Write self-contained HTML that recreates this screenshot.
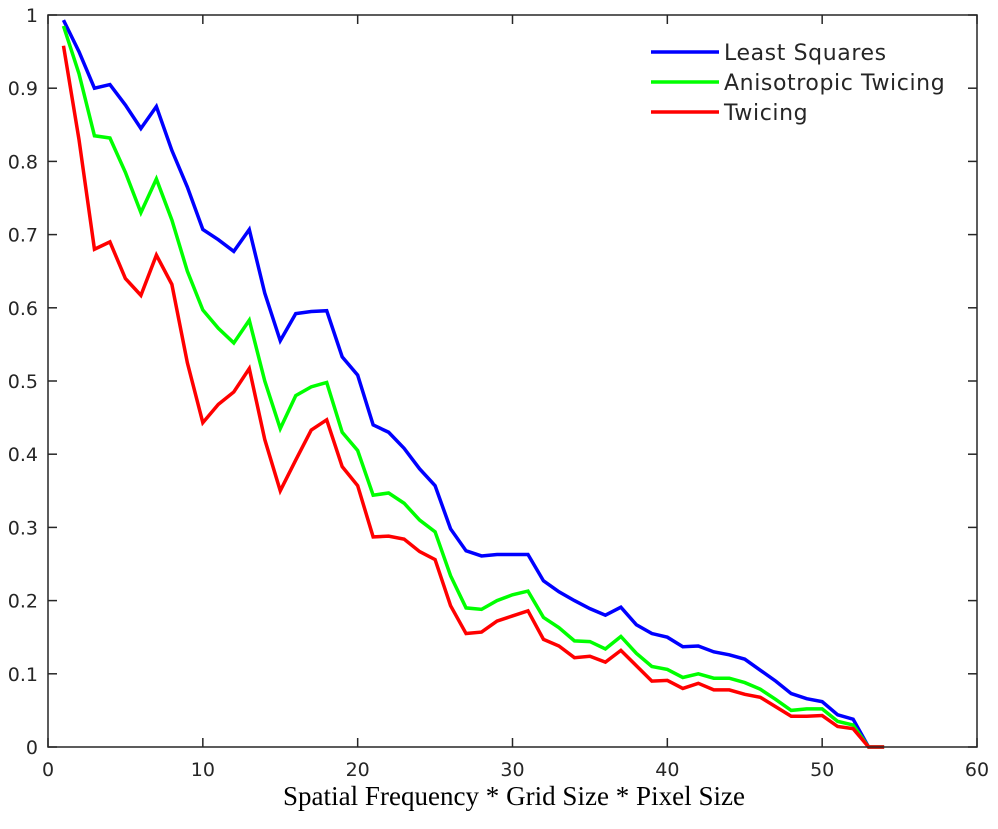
<!DOCTYPE html>
<html><head><meta charset="utf-8"><style>
body{margin:0;background:#fff;}
svg text{font-family:"DejaVu Sans",sans-serif;fill:#262626;}
</style></head><body>
<svg id="chart" width="998" height="824" xmlns="http://www.w3.org/2000/svg">
<g id="grid"></g>
<g id="series"></g>
<rect x="48" y="15" width="929" height="732" fill="none" stroke="#262626" stroke-width="1.5"/>
<text x="514" y="805" text-anchor="middle" textLength="462" style="font-family:'Liberation Serif',serif;font-size:27px;fill:#000">Spatial Frequency * Grid Size * Pixel Size</text>
<g id="legend"></g>
</svg>
<script>
const xTicks=[0,10,20,30,40,50,60];
const yTicks=[0,0.1,0.2,0.3,0.4,0.5,0.6,0.7,0.8,0.9,1];
const yTickLabels=["0","0.1","0.2","0.3","0.4","0.5","0.6","0.7","0.8","0.9","1"];
const xs=[1,2,3,4,5,6,7,8,9,10,11,12,13,14,15,16,17,18,19,20,21,22,23,24,25,26,27,28,29,30,31,32,33,34,35,36,37,38,39,40,41,42,43,44,45,46,47,48,49,50,51,52,53,54];
const leastSquares=[0.993,0.95,0.90,0.905,0.877,0.845,0.875,0.815,0.765,0.707,0.693,0.677,0.707,0.62,0.555,0.592,0.595,0.596,0.533,0.508,0.44,0.43,0.408,0.38,0.357,0.298,0.268,0.261,0.263,0.263,0.263,0.227,0.212,0.2,0.189,0.18,0.191,0.167,0.155,0.15,0.137,0.138,0.13,0.126,0.12,0.105,0.09,0.073,0.066,0.062,0.044,0.038,0,0];
const anisotropic=[0.985,0.92,0.835,0.832,0.785,0.73,0.776,0.72,0.65,0.597,0.572,0.552,0.583,0.5,0.435,0.48,0.492,0.498,0.43,0.405,0.344,0.347,0.333,0.31,0.294,0.234,0.19,0.188,0.2,0.208,0.213,0.177,0.163,0.145,0.144,0.134,0.151,0.128,0.11,0.106,0.095,0.1,0.094,0.094,0.088,0.079,0.065,0.05,0.052,0.052,0.035,0.03,0,0];
const twicing=[0.958,0.83,0.68,0.69,0.64,0.617,0.672,0.632,0.525,0.443,0.468,0.485,0.517,0.42,0.35,0.392,0.433,0.447,0.383,0.357,0.287,0.288,0.284,0.267,0.256,0.193,0.155,0.157,0.172,0.179,0.186,0.147,0.138,0.122,0.124,0.116,0.132,0.111,0.09,0.091,0.08,0.087,0.078,0.078,0.072,0.068,0.055,0.042,0.042,0.043,0.028,0.025,0,0];
const seriesNames=["Least Squares","Anisotropic Twicing","Twicing"];
const seriesColors=["#0000ff","#00ff00","#ff0000"];
const seriesData=[leastSquares,anisotropic,twicing];
const NS="http://www.w3.org/2000/svg";
const X=v=>48+v*(929/60), Y=v=>747-v*732;
const grid=document.getElementById('grid');
function mk(tag,attrs,parent){const e=document.createElementNS(NS,tag);for(const k in attrs)e.setAttribute(k,attrs[k]);parent.appendChild(e);return e;}
xTicks.forEach(t=>{
  const x=X(t);
  const l1=mk('line',{x1:x,x2:x,y1:747,y2:738,stroke:'#262626','stroke-width':1.5},grid);
  
  
  const l2=mk('line',{x1:x,x2:x,y1:15,y2:24,stroke:'#262626','stroke-width':1.5},grid);
  
  
  const tx=mk('text',{x:x,y:776,'text-anchor':'middle','font-size':19},grid);tx.textContent=t;
  
  
});
yTicks.forEach((t,i)=>{
  const y=Y(t);
  const l1=mk('line',{x1:48,x2:57,y1:y,y2:y,stroke:'#262626','stroke-width':1.5},grid);
  
  
  const l2=mk('line',{x1:968,x2:977,y1:y,y2:y,stroke:'#262626','stroke-width':1.5},grid);
  
  
  const tx=mk('text',{x:38,y:y+7,'text-anchor':'end','font-size':19},grid);tx.textContent=yTickLabels[i];
  
  
});
const sg=document.getElementById('series');
seriesData.forEach((d,i)=>{
  const p=mk('polyline',{points:d.map((v,j)=>X(xs[j])+','+Y(v)).join(' '),fill:'none',stroke:seriesColors[i],'stroke-width':3.5,'stroke-linejoin':'miter'},sg);
  
  
});
const lg=document.getElementById('legend');
seriesNames.forEach((n,i)=>{
  const y=52+i*30;
  const l=mk('line',{x1:651,x2:719,y1:y,y2:y,stroke:seriesColors[i],'stroke-width':3.5},lg);
  
  
  const t=mk('text',{x:724,y:y+8,'font-size':22,'letter-spacing':0.6,fill:'#000'},lg);t.textContent=n;
  
  
});
</script>
</body></html>
